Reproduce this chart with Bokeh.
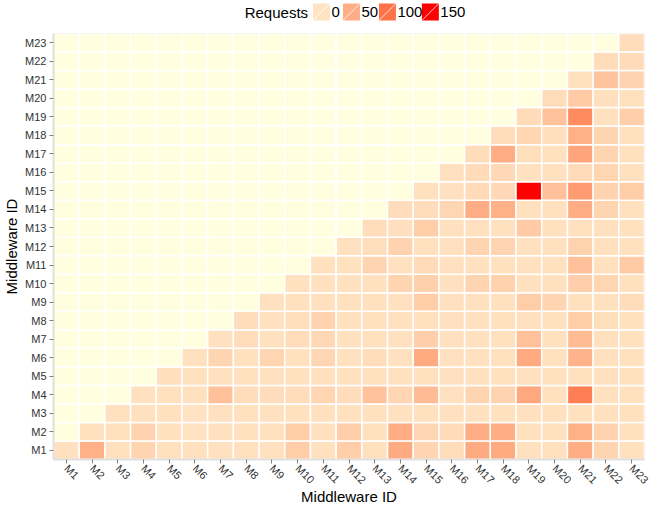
import math
import numpy as np
from bokeh.plotting import figure
from bokeh.layouts import column
from bokeh.models import LinearColorMapper, ColumnDataSource, FactorRange, Range1d
from bokeh.transform import transform
from bokeh.core.properties import value
from bokeh.embed import file_html
from bokeh.resources import INLINE

# ---------------- data ----------------
middleware = [f"M{i}" for i in range(1, 24)]

# requests from row middleware to columns M(row) .. M23 (upper-left cells have no value)
row_M1 = [3, 48, 3, 15, 3, 3, 3, 3, 3, 22, 3, 22, 3, 52, 15, 8, 52, 52, 3, 3, 50, 15, 3]
row_M2 = [4, 3, 16, 3, 2, 3, 3, 3, 21, 3, 20, 4, 50, 14, 9, 50, 50, 3, 3, 48, 16, 3]
row_M3 = [3, 4, 3, 2, 3, 3, 4, 3, 3, 3, 4, 3, 3, 3, 3, 3, 3, 3, 3, 3, 3]
row_M4 = [3, 4, 3, 33, 8, 7, 8, 14, 8, 32, 14, 38, 4, 15, 16, 56, 3, 90, 4, 3]
row_M5 = [5, 3, 3, 3, 3, 3, 3, 3, 3, 3, 3, 3, 3, 3, 3, 3, 3, 3, 3]
row_M6 = [4, 15, 4, 14, 4, 13, 3, 8, 3, 52, 3, 3, 3, 53, 3, 45, 3, 3]
row_M7 = [3, 8, 4, 8, 11, 3, 3, 3, 20, 3, 3, 3, 33, 3, 38, 3, 3]
row_M8 = [8, 4, 6, 16, 3, 3, 3, 3, 3, 3, 3, 3, 3, 22, 6, 3]
row_M9 = [3, 3, 3, 3, 3, 3, 21, 3, 3, 3, 22, 15, 3, 4, 8]
row_M10 = [3, 3, 3, 3, 15, 19, 3, 15, 18, 3, 3, 20, 14, 3]
row_M11 = [3, 3, 15, 3, 9, 3, 3, 3, 3, 3, 33, 3, 23]
row_M12 = [3, 6, 16, 3, 3, 15, 15, 3, 3, 17, 3, 3]
row_M13 = [8, 5, 22, 3, 3, 3, 24, 3, 3, 3, 3]
row_M14 = [7, 8, 13, 50, 48, 3, 3, 50, 15, 4]
row_M15 = [4, 4, 9, 10, 150, 33, 66, 16, 22]
row_M16 = [3, 9, 10, 3, 3, 9, 14, 4]
row_M17 = [8, 50, 6, 4, 57, 15, 4]
row_M18 = [8, 14, 5, 48, 15, 4]
row_M19 = [9, 32, 80, 4, 20]
row_M20 = [8, 24, 5, 4]
row_M21 = [4, 30, 16]
row_M22 = [8, 9]
row_M23 = [7]

rows = [row_M1, row_M2, row_M3, row_M4, row_M5, row_M6, row_M7, row_M8, row_M9,
        row_M10, row_M11, row_M12, row_M13, row_M14, row_M15, row_M16, row_M17,
        row_M18, row_M19, row_M20, row_M21, row_M22, row_M23]

legend_title = "Requests"
legend_values = [0, 50, 100, 150]
legend_labels = ["0", "50", "100", "150"]

# ---------------- colour scale (CIELAB ramp bisque -> red) ----------------
def _to_lab(rgb):
    c = np.asarray(rgb, dtype=float) / 255.0
    c = np.where(c <= 0.04045, c / 12.92, ((c + 0.055) / 1.055) ** 2.4)
    M = np.array([[0.4124, 0.3576, 0.1805], [0.2126, 0.7152, 0.0722], [0.0193, 0.1192, 0.9505]])
    xyz = M @ c / np.array([0.95047, 1.0, 1.08883])
    d = 6 / 29
    f = np.where(xyz > d ** 3, np.cbrt(xyz), xyz / (3 * d * d) + 4 / 29)
    return np.array([116 * f[1] - 16, 500 * (f[0] - f[1]), 200 * (f[1] - f[2])])

def _to_hex(lab):
    L, a, b = lab
    fy = (L + 16) / 116
    fx = fy + a / 500
    fz = fy - b / 200
    d = 6 / 29
    def finv(t):
        return t ** 3 if t > d else 3 * d * d * (t - 4 / 29)
    xyz = np.array([finv(fx), finv(fy), finv(fz)]) * np.array([0.95047, 1.0, 1.08883])
    Minv = np.array([[3.2406, -1.5372, -0.4986], [-0.9689, 1.8758, 0.0415], [0.0557, -0.2040, 1.0570]])
    lin = np.clip(Minv @ xyz, 0, 1)
    s = np.where(lin <= 0.0031308, 12.92 * lin, 1.055 * lin ** (1 / 2.4) - 0.055)
    r, g, bb = (np.clip(np.round(s * 255), 0, 255)).astype(int)
    return "#%02x%02x%02x" % (r, g, bb)

lo, hi = _to_lab((255, 228, 196)), _to_lab((255, 0, 0))
palette = [_to_hex(lo + (hi - lo) * t) for t in np.linspace(0, 1, 256)]
mapper = LinearColorMapper(palette=palette, low=0, high=150, nan_color="#FFFFE0")

FONT = "Liberation Sans"
W = 652
H = 508

# ---------------- legend strip (its frame lines up with the heatmap frame) ----------------
LH = 32
leg = figure(width=W, height=LH, x_range=Range1d(52, 644), y_range=Range1d(0, LH),
             output_backend="svg", toolbar_location=None, min_border=0,
             x_axis_location=None, y_axis_location=None)
leg.grid.grid_line_color = None
leg.outline_line_color = None
sw_left = [312, 342, 378, 421]
sw = 17
ymid = LH - 11.5
leg_src = ColumnDataSource(dict(
    x=[s + sw / 2 for s in sw_left], y=[ymid] * 4, v=legend_values,
    x0=sw_left, y0=[ymid - sw / 2] * 4,
    x1=[s + sw for s in sw_left], y1=[ymid + sw / 2] * 4,
    tx=[s + sw + 1.5 for s in sw_left], lab=legend_labels))
leg.rect(x="x", y="y", width=sw, height=sw, source=leg_src,
         fill_color=transform("v", mapper), line_color=None)
leg.segment(x0="x0", y0="y0", x1="x1", y1="y1", source=leg_src,
            line_color="white", line_width=1, line_alpha=0.8)
leg.text(x="tx", y="y", text="lab", source=leg_src, text_font=value(FONT),
         text_font_size="15px", text_baseline="middle", text_align="left", text_color="black")
leg.text(x=[sw_left[0] - 5], y=[ymid], text=[legend_title], text_font=value(FONT),
         text_font_size="15px", text_baseline="middle", text_align="right", text_color="black")

# ---------------- cells ----------------
xs, ys, vs = [], [], []
for j, yname in enumerate(middleware):
    for i, xname in enumerate(middleware):
        xs.append(xname)
        ys.append(yname)
        vs.append(rows[j][i - j] if i >= j else np.nan)
src = ColumnDataSource(dict(x=xs, y=ys, v=np.array(vs, dtype=float)))

p = figure(x_range=FactorRange(*middleware), y_range=FactorRange(*middleware),
           width=W, height=H - LH, output_backend="svg", toolbar_location=None,
           min_border_left=0, min_border_right=8, min_border_top=1, min_border_bottom=0)

p.rect(x="x", y="y", width=1, height=1, source=src,
       fill_color=transform("v", mapper), line_color="white", line_width=1.5)

p.xgrid.grid_line_color = None
p.ygrid.grid_line_color = None
p.outline_line_color = "#E6E6E6"
p.background_fill_color = "white"

for ax in (p.xaxis[0], p.yaxis[0]):
    ax.axis_line_color = "#E0E0E0"
    ax.axis_line_width = 2
    ax.major_tick_line_color = "#808080"
    ax.major_tick_out = 4
    ax.major_tick_in = 0
    ax.major_label_text_font = FONT
    ax.major_label_text_font_size = "11px"
    ax.major_label_text_color = "#333333"
    ax.axis_label = "Middleware ID"
    ax.axis_label_text_font = FONT
    ax.axis_label_text_font_size = "15px"
    ax.axis_label_text_font_style = "normal"
    ax.axis_label_text_color = "black"
    ax.major_label_standoff = 3
p.yaxis[0].axis_label_standoff = 2
p.xaxis[0].axis_label_standoff = -5
p.xaxis[0].major_label_orientation = -math.pi / 4

open("out.html", "w").write(file_html(column(leg, p, spacing=0), INLINE))
